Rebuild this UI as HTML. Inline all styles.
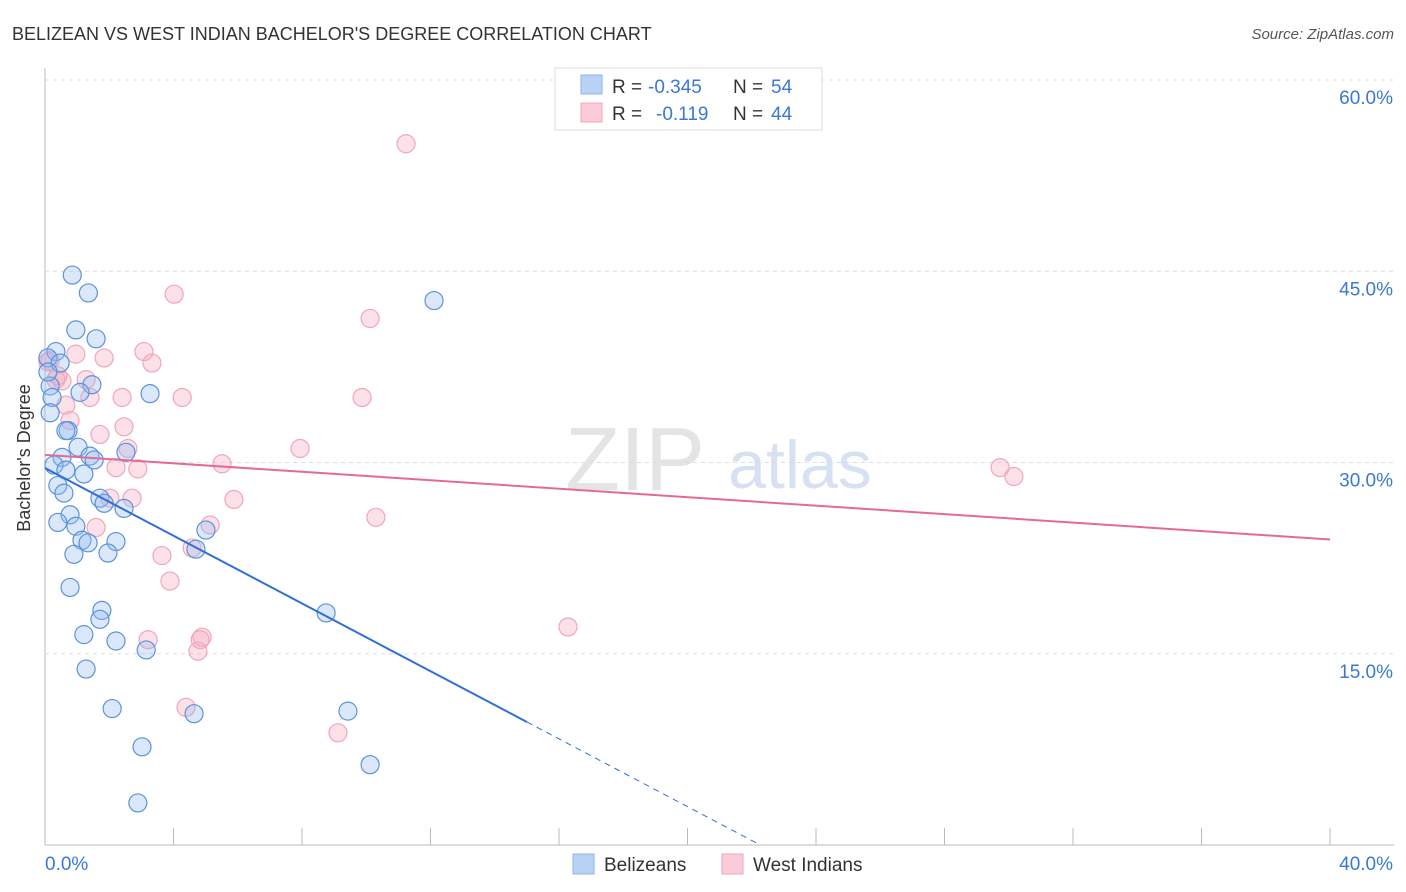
<!DOCTYPE html>
<html><head><meta charset="utf-8"><style>
html,body{margin:0;background:#fff;font-family:"Liberation Sans",sans-serif;overflow:hidden;width:1406px;height:892px}
svg{display:block}
svg text{font-family:"Liberation Sans",sans-serif}
</style></head><body>
<svg id="chart" width="1406" height="892" overflow="hidden">
<text x="12" y="40" font-size="18" fill="#333">BELIZEAN VS WEST INDIAN BACHELOR'S DEGREE CORRELATION CHART</text>
<text x="1394" y="39" font-size="15" fill="#555" font-style="italic" text-anchor="end">Source: ZipAtlas.com</text>
<text x="635" y="490" font-size="90" fill="#e4e4e4" font-family="Liberation Serif" text-anchor="middle">ZIP</text>
<text x="800" y="488" font-size="68" fill="#d6e2f2" text-anchor="middle">atlas</text>
<g id="grid"></g><g id="pts"></g><g id="lines"></g>
<text x="30" y="458" font-size="18" fill="#333" text-anchor="middle" transform="rotate(-90 30 458)">Bachelor's Degree</text>
<g>
<rect x="555" y="68" width="267" height="62" fill="#fff" stroke="#ddd"/>
<rect x="581" y="75" width="21" height="19" fill="#b8d3f5" stroke="#8fb5e8"/>
<rect x="581" y="103" width="21" height="19" fill="#fbcbd8" stroke="#f2a5bb"/>
<text x="612" y="93" font-size="19" fill="#333">R =</text>
<text x="648" y="93" font-size="19" fill="#3a78d4">-0.345</text>
<text x="733" y="93" font-size="19" fill="#333">N =</text>
<text x="771" y="93" font-size="19" fill="#3a78d4">54</text>
<text x="612" y="120" font-size="19" fill="#333">R =</text>
<text x="656" y="120" font-size="19" fill="#3a78d4">-0.119</text>
<text x="733" y="120" font-size="19" fill="#333">N =</text>
<text x="771" y="120" font-size="19" fill="#3a78d4">44</text>
</g>
<g>
<rect x="573" y="854" width="21" height="20" fill="#b8d3f5" stroke="#8fb5e8"/>
<text x="604" y="871" font-size="19" fill="#333">Belizeans</text>
<rect x="722" y="854" width="21" height="20" fill="#fbcbd8" stroke="#f2a5bb"/>
<text x="753" y="871" font-size="19" fill="#333">West Indians</text>
</g>
</svg>
<script>
const yTicks=[15,30,45,60];
const xTickLabels=["0.0%","40.0%"];
const blueX=[0.85,1.35,0.96,1.59,0.34,0.09,0.47,1.46,0.16,1.09,3.27,0.22,0.16,0.72,0.65,1.03,2.52,1.40,1.53,0.53,0.28,0.65,1.21,0.40,0.59,1.71,1.84,2.46,0.78,0.40,0.96,1.15,1.34,2.21,5.01,4.70,0.90,1.96,0.78,1.77,1.71,1.21,2.21,3.15,1.28,8.75,12.11,2.09,4.64,9.43,3.02,10.12,2.89,0.09];
const blueY=[44.7,43.3,40.4,39.7,38.7,38.2,37.8,36.1,36.0,35.5,35.4,35.1,33.9,32.5,32.5,31.2,30.8,30.5,30.2,30.4,29.8,29.4,29.1,28.2,27.6,27.2,26.8,26.4,25.9,25.3,25.0,23.9,23.7,23.8,24.7,23.2,22.8,22.9,20.2,18.4,17.7,16.5,16.0,15.3,13.8,18.2,42.7,10.7,10.3,10.5,7.7,6.3,3.3,37.1];
const pinkX=[11.24,4.02,10.12,3.08,0.96,1.84,3.33,0.16,0.34,1.28,0.40,2.40,1.40,4.27,9.87,0.65,0.78,2.46,1.71,2.58,7.94,2.21,2.89,5.51,29.73,30.16,2.02,2.71,5.88,10.30,5.14,1.59,4.58,3.64,3.89,16.28,3.21,4.89,4.83,4.76,4.39,9.12,0.09,0.53];
const pinkY=[55.0,43.2,41.3,38.7,38.5,38.2,37.8,38.0,36.5,36.5,36.8,35.1,35.1,35.1,35.1,34.5,33.3,32.8,32.2,31.1,31.1,29.6,29.5,29.9,29.6,28.9,27.2,27.2,27.1,25.7,25.1,24.9,23.3,22.7,20.7,17.1,16.1,16.3,16.1,15.2,10.8,8.8,37.9,36.4];
const X=v=>45+v*32.125, Y=v=>845-v*12.75;
const NS="http://www.w3.org/2000/svg";
function mk(t,a,p){const e=document.createElementNS(NS,t);for(const k in a)e.setAttribute(k,a[k]);p.appendChild(e);return e;}
const g=document.getElementById('grid');
const ax=mk('line',{x1:45,y1:68,x2:45,y2:845,stroke:'#bbb'},g);


const bx=mk('line',{x1:45,y1:845,x2:1394,y2:845,stroke:'#bbb'},g);


yTicks.forEach(t=>{
 const l=mk('line',{x1:45,y1:Y(t),x2:1394,y2:Y(t),stroke:'#ddd','stroke-dasharray':'4,4'},g);
 
 
 const tx=mk('text',{x:1393,y:Y(t)+24,'font-size':19,fill:'#3a78d4','text-anchor':'end'},g);tx.textContent=t.toFixed(1)+'%';
 
 
});
for(let i=1;i<=10;i++){const l=mk('line',{x1:X(i*4),y1:828,x2:X(i*4),y2:845,stroke:'#bbb'},g);
 
 }
[[0,45,'start'],[40,1393,'end']].forEach((d,i)=>{const t=mk('text',{x:d[1],y:870,'font-size':19,fill:'#3a78d4','text-anchor':d[2]},g);t.textContent=xTickLabels[i];
 
 });
const p=document.getElementById('pts');
pinkX.forEach((v,i)=>{const c=mk('circle',{cx:X(v),cy:Y(pinkY[i]),r:9,fill:'rgba(246,168,190,0.35)',stroke:'#f0a6bb','stroke-width':1.2},p);
 
 });
blueX.forEach((v,i)=>{const c=mk('circle',{cx:X(v),cy:Y(blueY[i]),r:9,fill:'rgba(150,190,240,0.35)',stroke:'#5b93dc','stroke-width':1.2},p);
 
 });
const L=document.getElementById('lines');
const bt=v=>29.57-1.328*v, pt=v=>30.6-0.166*v;
const bEnd=29.57/1.328;
const b1=mk('line',{x1:X(0),y1:Y(bt(0)),x2:X(15),y2:Y(bt(15)),stroke:'#2f6fd6','stroke-width':2},L);


const b2=mk('line',{x1:X(15),y1:Y(bt(15)),x2:X(bEnd),y2:Y(bt(bEnd)),stroke:'#2f6fd6','stroke-width':1,'stroke-dasharray':'6,5'},L);


const p1=mk('line',{x1:X(0),y1:Y(pt(0)),x2:X(40),y2:Y(pt(40)),stroke:'#e56a93','stroke-width':2},L);


</script>
</body></html>
